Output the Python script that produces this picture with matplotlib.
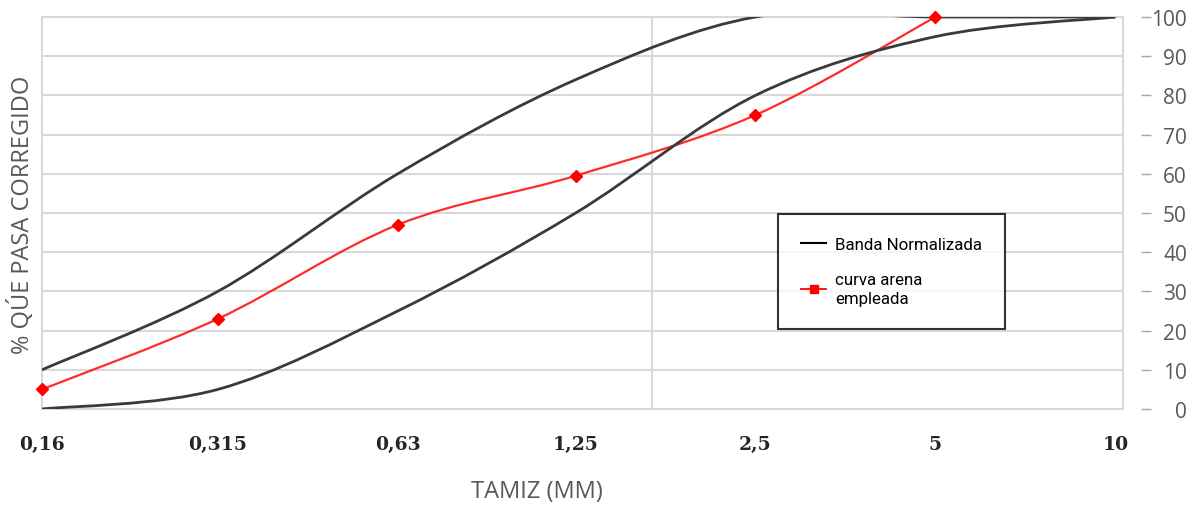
import numpy as np
import matplotlib
matplotlib.use("Agg")
import matplotlib.pyplot as plt
from matplotlib.path import Path
from matplotlib.patches import PathPatch
from matplotlib.lines import Line2D

# ---- data ----
sieves = [0.16, 0.315, 0.63, 1.25, 2.5, 5, 10]
sieve_labels = ["0,16", "0,315", "0,63", "1,25", "2,5", "5", "10"]
band_upper = [10, 30, 60, 84, 100, 100, 100]
band_lower = [0, 5, 25, 50, 80, 95, 100]
sand_sieves = [0.16, 0.315, 0.63, 1.25, 2.5, 5]
sand_curve = [5, 23, 47, 59.5, 75, 100]
y_ticks = list(range(0, 101, 10))

GRAY_TXT = "#595959"
GRID = "#d9d9d9"


def smooth_path(xs, ys, t=1.0):
    """Catmull-Rom style smoothing (like a spreadsheet 'smoothed line')
    built as cubic Bezier segments in log2(x) space."""
    lx = np.log2(np.asarray(xs, float))
    y = np.asarray(ys, float)
    n = len(lx)
    P = np.column_stack([lx, y])
    verts = [P[0]]
    codes = [Path.MOVETO]
    for i in range(n - 1):
        p0 = P[i - 1] if i > 0 else P[i]
        p1 = P[i]
        p2 = P[i + 1]
        p3 = P[i + 2] if i + 2 < n else P[i + 1]
        c1 = p1 + (p2 - p0) / 6.0 * t
        c2 = p2 - (p3 - p1) / 6.0 * t
        verts += [c1, c2, p2]
        codes += [Path.CURVE4] * 3
    verts = np.array(verts)
    verts[:, 0] = 2.0 ** verts[:, 0]
    return Path(verts, codes)


fig = plt.figure(figsize=(11.91, 5.06), dpi=100)
ax = fig.add_axes([42 / 1191, 1 - 410 / 506, (1123 - 42) / 1191, (410 - 18) / 506])
ax.set_xscale("log", base=2)
ax.set_xlim(0.16, 10.3)
ax.set_ylim(0, 100)

# grid
for v in y_ticks:
    ax.axhline(v, color=GRID, lw=1.5, zorder=0)
ax.set_xticks([1.68], minor=True)
ax.grid(True, which="minor", axis="x", color=GRID, lw=1.5, zorder=0)
for s in ax.spines.values():
    s.set_color(GRID)
    s.set_linewidth(1.5)

# curves
for arr in (band_upper, band_lower):
    ax.add_patch(PathPatch(smooth_path(sieves, arr), facecolor="none",
                           edgecolor="#3a3a3a", lw=2.0, zorder=3))
ax.add_patch(PathPatch(smooth_path(sand_sieves, sand_curve), facecolor="none",
                       edgecolor="#ff2a2a", lw=1.6, zorder=2))
ax.plot(sand_sieves, sand_curve, linestyle="none", marker="D", ms=6,
        color="#ff0000", zorder=4, clip_on=False)

# x axis
ax.set_xticks(sieves)
ax.set_xticklabels(sieve_labels)
ax.xaxis.set_minor_formatter(matplotlib.ticker.NullFormatter())
ax.tick_params(axis="x", which="both", length=0, pad=19)
for lab in ax.get_xticklabels():
    lab.set_fontfamily(["DejaVu Serif"])
    lab.set_fontsize(13.5)
    lab.set_fontweight("semibold")
    lab.set_color("#262626")
ax.set_xlabel("TAMIZ (MM)", fontsize=17, color=GRAY_TXT, family="Open Sans",
              va="center")
ax.xaxis.set_label_coords((537 - 42) / 1081, (410 - 492) / 392)

# y axis on right, offset
ax.set_yticks([])
ax2 = ax.twinx()
ax2.set_ylim(0, 100)
ax2.set_yticks(y_ticks)
ax2.set_yticklabels([str(v) for v in y_ticks])
for k, s in ax2.spines.items():
    s.set_visible(False)
ax2.spines["right"].set_position(("outward", 13))
ax2.tick_params(axis="y", length=7, width=1, color="#a6a6a6", pad=26,
                labelsize=15, labelcolor=GRAY_TXT)
for lab in ax2.get_yticklabels():
    lab.set_horizontalalignment("right")
    lab.set_fontfamily("Open Sans")

ax.set_ylabel("% QÚE PASA CORREGIDO", fontsize=17, color=GRAY_TXT, family="Open Sans",
              va="center")
ax.yaxis.set_label_coords((22 - 42) / 1081, (410 - 215) / 392)

# legend
handles = [Line2D([], [], color="black", lw=1.5),
           Line2D([], [], color="#ff0000", lw=1.3, marker="s", ms=6)]
labels = ["Banda Normalizada", "curva arena\nempleada"]
leg = ax.legend(handles, labels, loc="upper left",
                bbox_to_anchor=((778 - 42) / 1081, (410 - 215) / 392),
                frameon=True, fancybox=False, edgecolor="black",
                prop={"family": ["Roboto", "DejaVu Sans"], "size": 12.2},
                handlelength=1.5, handletextpad=0.5, borderpad=1.35,
                labelspacing=1.2, borderaxespad=0)
leg.get_texts()[1].set_linespacing(1.3)
leg.get_frame().set_linewidth(1.5)
leg.set_zorder(10)

fig.savefig("out.png", dpi=100)
